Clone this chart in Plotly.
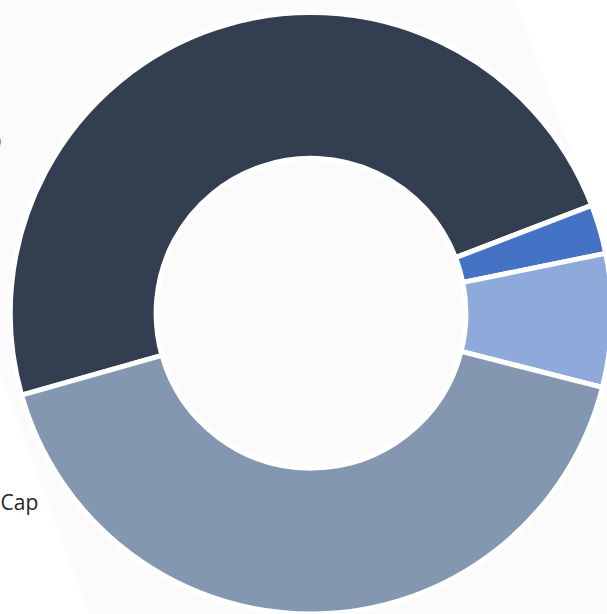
import plotly.graph_objects as go

W, H = 607, 614
FW = 630  # figure slightly wider than the window; the right part is cut off like in the reference

categories = ["Large Cap", "Micro Cap", "Small Cap", "Mid Cap"]
values = [48.55, 2.65, 7.15, 41.65]
colors = ["#333F50", "#4472C4", "#8EAADB", "#8497B0"]

# label texts visible at the left edge (partially cut off)
label_texts = ["Large Cap", "Mid Cap"]

cx, cy, r = 311.0, 313.5, 301.0

fig = go.Figure(
    go.Pie(
        labels=categories,
        values=values,
        sort=False,
        direction="clockwise",
        rotation=254.2,
        hole=0.515,
        textinfo="none",
        marker=dict(colors=colors, line=dict(color="#ffffff", width=5)),
        showlegend=False,
        domain=dict(
            x=[max(0, (cx - r) / FW), min(1, (cx + r) / FW)],
            y=[max(0, 1 - (cy + r) / H), min(1, 1 - (cy - r) / H)],
        ),
    )
)

# faint rotated background panel
def px(x, y):
    return f"{x / FW:.4f},{1 - y / H:.4f}"

panel = "M " + px(-138, 0) + " L " + px(515, 0) + " L " + px(742, 614) + " L " + px(89, 614) + " Z"
fig.add_shape(type="path", path=panel, xref="paper", yref="paper",
              fillcolor="#fbfbfb", line=dict(width=0), layer="below")

fig.add_annotation(text=label_texts[0], xref="paper", yref="paper",
                   x=4 / FW, y=1 - 140 / H, xanchor="right", yanchor="middle",
                   showarrow=False, font=dict(family="Open Sans", size=21, color="#262626"))
fig.add_annotation(text=label_texts[1], xref="paper", yref="paper",
                   x=40 / FW, y=1 - 502 / H, xanchor="right", yanchor="middle",
                   showarrow=False, font=dict(family="Open Sans", size=21, color="#262626"))

fig.update_layout(
    width=FW, height=H,
    margin=dict(l=0, r=0, t=0, b=0),
    paper_bgcolor="#ffffff",
    plot_bgcolor="#ffffff",
)

fig.write_html(
    "out.html",
    config={"displayModeBar": False},
    post_script="document.body.style.margin='0px';document.body.style.overflow='hidden';document.documentElement.style.overflow='hidden';",
)
